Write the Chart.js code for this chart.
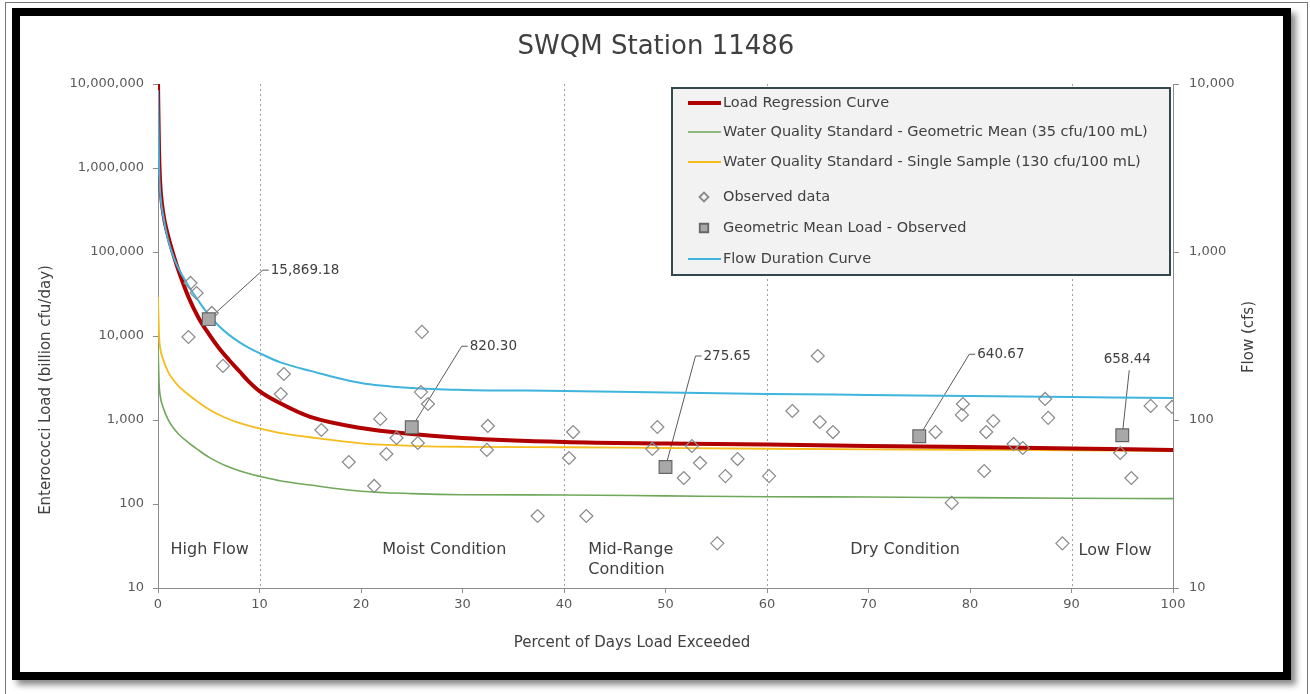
<!DOCTYPE html>
<html>
<head>
<meta charset="utf-8">
<title>SWQM Station 11486</title>
<script src="https://cdn.jsdelivr.net/npm/chart.js@4.4.0/dist/chart.umd.min.js"></script>
<style>
  html, body { margin: 0; padding: 0; background: #fff; }
  body { width: 1310px; height: 694px; position: relative; overflow: hidden; }
  .outer { position: absolute; left: 5px; top: 2px; width: 1301px; height: 720px; border: 1px solid #777; }
  .frame { position: absolute; left: 12px; top: 8px; width: 1263px; height: 656px; border: 8px solid #000;
           background: #fff; box-shadow: 5px 5px 6px rgba(0,0,0,0.45); }
  #wrap { position: absolute; left: 0; top: 0; width: 1310px; height: 694px; }
</style>
</head>
<body>
<div class="outer"></div>
<div class="frame"></div>
<div id="wrap"><canvas id="grafico" width="1310" height="694"></canvas></div>
<script>
// Percent of days exceeded (x) for the curves
const pct = [0, 0.1, 0.2, 0.5, 1, 1.5, 2, 3, 4, 5, 6, 7, 8, 9, 10, 12, 15, 20, 25, 30, 40, 50, 60, 70, 80, 90, 100];

// Load regression curve (billion cfu/day)
const loadCurve = [10000000, 1640000, 720000, 299000, 155000, 94600, 61100, 29100, 16400, 10600, 7200, 5180, 3830, 2830,
                   2210, 1590, 1087, 803, 681, 611, 547, 525, 511, 490, 477, 458, 440];

// Water quality standard curves (billion cfu/day)
const wqsGeoMean = [7880, 2820, 2000, 1420, 1010, 810, 687, 538, 437, 361, 311, 275, 249, 229,
                    214, 189, 168, 142, 133, 129, 128, 125, 122, 121, 119, 117, 116];
const wqsSingle = [29300, 10500, 7440, 5280, 3750, 3010, 2550, 2000, 1625, 1340, 1154, 1020, 925, 852,
                   795, 703, 623, 528, 493, 480, 474, 464, 455, 448, 442, 436, 429];

// Flow duration curve (cfs, right axis)
const flowCurve = [9200, 3300, 2340, 1660, 1180, 946, 803, 628, 511, 422, 363, 321, 291, 268,
                   250, 221, 196, 166, 155, 151, 149, 146, 143, 141, 139, 137, 135];

// Observed samples
const obsPct = [3.2, 3.8, 5.3, 3.0, 6.4, 12.4, 12.1, 16.1, 18.8, 21.3, 21.9, 22.5, 23.5, 25.6, 25.9, 26.0, 26.6,
                32.5, 32.4, 37.4, 40.9, 40.5, 42.2, 49.2, 48.7, 52.6, 53.4, 51.8, 55.9, 57.1, 60.2, 55.1,
                65.0, 62.5, 65.2, 66.5, 76.6, 79.3, 79.2, 81.4, 78.2, 81.6, 82.3, 84.3, 85.2, 87.4, 87.7,
                89.1, 94.8, 95.9, 97.8, 99.9];
const obsLoad = [42800, 32500, 18800, 9730, 4400, 3530, 2040, 760, 316, 164, 1030, 394, 611, 532, 2150, 11200, 1550,
                 849, 440, 72, 719, 353, 72, 826, 452, 490, 308, 204, 215, 343, 215, 34,
                 5780, 1280, 946, 719, 719, 1550, 1150, 247, 103, 719, 973, 518, 464, 1780, 1060,
                 34, 405, 204, 1470, 1430];

// Geometric mean load per flow regime
const gmPct = [5, 25, 50, 75, 95];
const gmLoad = [15869.18, 820.30, 275.65, 640.67, 658.44];

// Flow regimes
const regimeBounds = [10, 40, 60, 90];
const regimeNames = [['High Flow'], ['Moist Condition'], ['Mid-Range', 'Condition'], ['Dry Condition'], ['Low Flow']];

// Ticks
const xTicks = [0, 10, 20, 30, 40, 50, 60, 70, 80, 90, 100];
const loadTicks = [10, 100, 1000, 10000, 100000, 1000000, 10000000];
const flowTicks = [10, 100, 1000, 10000];

const FONT = "'DejaVu Sans', 'Noto Sans', sans-serif";
const TXT = '#404040';

const pts = (xs, ys) => xs.map((x, i) => ({x: x, y: ys[i]}));

// label placement for the regime texts and callouts (pixels)
const regimeLabelPos = [
  {x: 5.1, y: 550, align: 'center'},
  {x: 28.2, y: 550, align: 'center'},
  {x: 42.4, y: 550, align: 'left'},
  {x: 73.6, y: 550, align: 'center'},
  {x: 94.3, y: 551, align: 'center'}
];
const callouts = [
  {dx: 54, dy: -49},
  {dx: 50, dy: -81},
  {dx: 30, dy: -111},
  {dx: 50, dy: -82},
  {dx: 7, dy: -65, above: true}
];
const legendRows = [103, 132, 162, 197, 228, 259];

const fmtGm = v => v.toLocaleString('en-US', {minimumFractionDigits: 2, maximumFractionDigits: 2});

const decor = {
  id: 'decor',
  beforeDatasetsDraw(chart) {
    const ctx = chart.ctx, xs = chart.scales.x, ys = chart.scales.y, area = chart.chartArea;
    ctx.save();
    // dotted flow regime boundaries
    ctx.strokeStyle = '#a0a0a0';
    ctx.lineWidth = 1;
    ctx.setLineDash([2, 3]);
    regimeBounds.forEach(b => {
      const px = Math.round(xs.getPixelForValue(b)) + 0.5;
      ctx.beginPath();
      ctx.moveTo(px, area.top);
      ctx.lineTo(px, area.bottom);
      ctx.stroke();
    });
    ctx.setLineDash([]);
    // leader lines for the geometric mean callouts
    ctx.strokeStyle = '#5a5a5a';
    gmPct.forEach((p, i) => {
      const px = xs.getPixelForValue(p), py = ys.getPixelForValue(gmLoad[i]);
      const c = callouts[i];
      ctx.beginPath();
      ctx.moveTo(px, py);
      ctx.lineTo(px + c.dx, py + c.dy);
      if (!c.above) ctx.lineTo(px + c.dx + 6, py + c.dy);
      ctx.stroke();
    });
    ctx.restore();
  },
  afterDraw(chart) {
    const ctx = chart.ctx, xs = chart.scales.x, ys = chart.scales.y;
    ctx.save();
    ctx.fillStyle = TXT;
    ctx.textBaseline = 'middle';

    // title
    ctx.font = '26px ' + FONT;
    ctx.textAlign = 'center';
    ctx.fillText('SWQM Station 11486', 656, 47);

    // axis titles
    ctx.font = '15px ' + FONT;
    ctx.fillText('Percent of Days Load Exceeded', 632, 643);
    ctx.save();
    ctx.translate(46, 390);
    ctx.rotate(-Math.PI / 2);
    ctx.fillText('Enterococci Load (billion cfu/day)', 0, 0);
    ctx.restore();
    ctx.save();
    ctx.translate(1249, 337);
    ctx.rotate(-Math.PI / 2);
    ctx.fillText('Flow (cfs)', 0, 0);
    ctx.restore();

    // flow regime labels
    ctx.font = '16px ' + FONT;
    regimeNames.forEach((lines, i) => {
      const pos = regimeLabelPos[i];
      ctx.textAlign = pos.align;
      lines.forEach((t, j) => ctx.fillText(t, xs.getPixelForValue(pos.x), pos.y + j * 20));
    });

    // callout values
    ctx.font = '13.5px ' + FONT;
    gmPct.forEach((p, i) => {
      const px = xs.getPixelForValue(p), py = ys.getPixelForValue(gmLoad[i]);
      const c = callouts[i];
      if (c.above) {
        ctx.textAlign = 'center';
        ctx.fillText(fmtGm(gmLoad[i]), px + c.dx - 2, py + c.dy - 11);
      } else {
        ctx.textAlign = 'left';
        ctx.fillText(fmtGm(gmLoad[i]), px + c.dx + 8, py + c.dy);
      }
    });

    // legend box
    ctx.fillStyle = '#f2f2f2';
    ctx.fillRect(672, 88, 498, 187);
    ctx.strokeStyle = '#34474d';
    ctx.lineWidth = 2;
    ctx.strokeRect(672, 88, 498, 187);
    ctx.font = '14.5px ' + FONT;
    ctx.textAlign = 'left';
    chart.data.datasets.forEach((ds, i) => {
      const y = legendRows[i];
      if (ds.showLine) {
        ctx.strokeStyle = ds.borderColor;
        ctx.lineWidth = ds.borderWidth;
        ctx.beginPath();
        ctx.moveTo(688, y);
        ctx.lineTo(721, y);
        ctx.stroke();
      } else {
        ctx.strokeStyle = ds.borderColor;
        ctx.fillStyle = ds.backgroundColor;
        Chart.helpers.drawPoint(ctx, {pointStyle: ds.pointStyle, rotation: 0, borderWidth: 1,
          radius: ds.pointStyle === 'rect' ? 6 : 4.5}, 704, y);
      }
      ctx.fillStyle = TXT;
      ctx.fillText(ds.label, 723, y);
    });
    ctx.restore();
  }
};

const lineDs = (label, data, color, width, axis, order) => ({
  label: label, data: data, showLine: true, borderColor: color, backgroundColor: color,
  borderWidth: width, pointRadius: 0, yAxisID: axis, cubicInterpolationMode: 'monotone', order: order
});

const ctx = document.querySelector('#grafico').getContext('2d');
new Chart(ctx, {
  type: 'scatter',
  data: {
    datasets: [
      lineDs('Load Regression Curve', pts(pct, loadCurve), '#b00000', 4, 'y', 3),
      lineDs('Water Quality Standard - Geometric Mean (35 cfu/100 mL)', pts(pct, wqsGeoMean), '#6fa85a', 1.6, 'y', 5),
      lineDs('Water Quality Standard - Single Sample (130 cfu/100 mL)', pts(pct, wqsSingle), '#f5bc1c', 1.8, 'y', 4),
      {
        label: 'Observed data', data: pts(obsPct, obsLoad), pointStyle: 'rectRot', pointRadius: 6.5,
        borderColor: '#8a8a8a', backgroundColor: 'rgba(255,255,255,0)', borderWidth: 1.2, yAxisID: 'y', order: 1
      },
      {
        label: 'Geometric Mean Load - Observed', data: pts(gmPct, gmLoad), pointStyle: 'rect', pointRadius: 9,
        borderColor: '#666', backgroundColor: '#a8a8a8', borderWidth: 1.2, yAxisID: 'y', order: 0
      },
      lineDs('Flow Duration Curve', pts(pct, flowCurve), '#3fb4dc', 2, 'y2', 2)
    ]
  },
  options: {
    responsive: false,
    animation: false,
    events: [],
    layout: {padding: {top: 84, left: 0, right: 0, bottom: 0}},
    plugins: {legend: {display: false}, title: {display: false}, tooltip: {enabled: false}},
    scales: {
      x: {
        type: 'linear', min: 0, max: 100,
        afterBuildTicks: s => { s.ticks = xTicks.map(v => ({value: v})); },
        afterFit: s => { s.height = 106; },
        ticks: {color: '#595959', font: {family: FONT, size: 13}, padding: 4},
        grid: {drawOnChartArea: false, tickColor: '#8c8c8c', tickLength: 5},
        border: {color: '#8c8c8c', width: 1}
      },
      y: {
        type: 'logarithmic', position: 'left', min: 10, max: 10000000,
        afterBuildTicks: s => { s.ticks = loadTicks.map(v => ({value: v})); },
        afterFit: s => { s.width = 158; },
        ticks: {color: '#595959', font: {family: FONT, size: 13}, padding: 9,
                callback: v => Number(v).toLocaleString('en-US')},
        grid: {drawOnChartArea: false, tickColor: '#8c8c8c', tickLength: 5},
        border: {color: '#8c8c8c', width: 1}
      },
      y2: {
        type: 'logarithmic', position: 'right', min: 10, max: 10000,
        afterBuildTicks: s => { s.ticks = flowTicks.map(v => ({value: v})); },
        afterFit: s => { s.width = 137; },
        ticks: {color: '#595959', font: {family: FONT, size: 13}, padding: 10,
                callback: v => Number(v).toLocaleString('en-US')},
        grid: {drawOnChartArea: false, tickColor: '#8c8c8c', tickLength: 6},
        border: {color: '#8c8c8c', width: 1}
      }
    }
  },
  plugins: [decor]
});
</script>
</body>
</html>
